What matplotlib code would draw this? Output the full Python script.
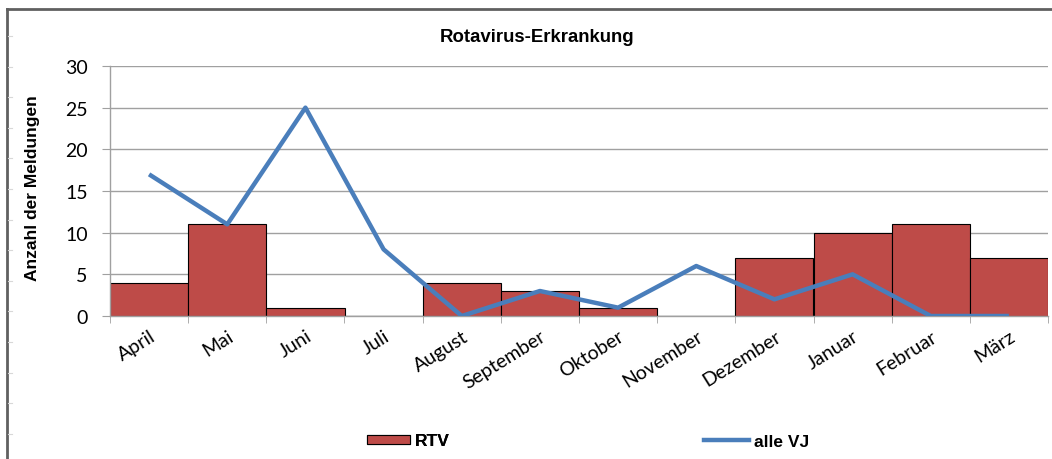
import numpy as np
import matplotlib
matplotlib.use("Agg")
import matplotlib.pyplot as plt
from matplotlib.patches import Patch
from matplotlib.lines import Line2D

# data
months = ["April", "Mai", "Juni", "Juli", "August", "September", "Oktober",
          "November", "Dezember", "Januar", "Februar", "März"]
rtv = [4, 11, 1, 0, 4, 3, 1, 0, 7, 10, 11, 7]
alle_vj = [17, 11, 25, 8, 0, 3, 1, 6, 2, 5, 0, 0]
yticks = [0, 5, 10, 15, 20, 25, 30]

bar_color = "#BE4B48"
line_color = "#4A7EBB"
grid_color = "#A0A0A0"

fig = plt.figure(figsize=(10.52, 4.60), dpi=100)
ax = fig.add_axes([110 / 1052, 1 - 317 / 460, 938 / 1052, 250 / 460])

x = np.arange(len(months))
ax.bar(x, rtv, width=1.0, color=bar_color, edgecolor="black", linewidth=0.8, zorder=2)
ax.plot(x, alle_vj, color=line_color, linewidth=3.2, zorder=3, solid_capstyle="butt")

ax.set_xlim(-0.5, len(months) - 0.5)
ax.set_ylim(0, 30)
ax.set_yticks(yticks)
ax.yaxis.grid(True, color=grid_color, linewidth=1.0, zorder=0)
ax.set_axisbelow(True)

ax.set_xticks(x)
ax.set_xticklabels(months, rotation=32, ha="right", rotation_mode="anchor",
                   fontsize=14, family="Lato")
ax.set_xticks(np.arange(-0.5, len(months)), minor=True)
ax.tick_params(axis="x", which="major", length=0, pad=8)
ax.tick_params(axis="x", which="minor", length=5, color=grid_color, direction="out")
ax.tick_params(axis="y", length=6, color=grid_color, labelsize=14, pad=10)
for lbl in ax.get_yticklabels():
    lbl.set_family("Lato")

for side in ["top", "right"]:
    ax.spines[side].set_visible(False)
for side in ["left", "bottom"]:
    ax.spines[side].set_color(grid_color)
    ax.spines[side].set_linewidth(1.0)

fig.text(33 / 1052, 1 - 188 / 460, "Anzahl der Meldungen", rotation=90,
         ha="center", va="center", fontsize=12.5, fontweight="bold",
         family="Liberation Sans")
fig.text(537 / 1052, 1 - 38 / 460, "Rotavirus-Erkrankung", ha="center", va="center",
         fontsize=13.4, fontweight="bold", family="Liberation Sans")

# outer frame (left and top) with small marks
fig.add_artist(Line2D([7 / 1052, 7 / 1052], [0, 1 - 10 / 460], color="#606060",
                      linewidth=2.0, transform=fig.transFigure))
fig.add_artist(Line2D([7 / 1052, 1], [1 - 10 / 460, 1 - 10 / 460], color="#606060",
                      linewidth=2.0, transform=fig.transFigure))
for yy in np.arange(37, 460, 30.6):
    fig.add_artist(Line2D([8 / 1052, 12 / 1052], [1 - yy / 460, 1 - yy / 460],
                          color="#D8D8D8", linewidth=0.8, transform=fig.transFigure))

legfont = {"family": "Liberation Sans", "weight": "bold", "size": 12.5}
leg1 = fig.legend(handles=[Patch(facecolor=bar_color, edgecolor="black", linewidth=0.8)],
                  labels=["RTV"], loc="center left",
                  bbox_to_anchor=(351 / 1052, 1 - 442 / 460), frameon=False,
                  prop=legfont, handlelength=2.5, handleheight=0.45, handletextpad=0.3)
leg2 = fig.legend(handles=[Line2D([0], [0], color=line_color, linewidth=3.2)],
                  labels=["alle VJ"], loc="center left",
                  bbox_to_anchor=(688 / 1052, 1 - 442 / 460), frameon=False,
                  prop=legfont, handlelength=2.6, handletextpad=0.3)
fig.add_artist(leg1)

fig.savefig("out.png", dpi=100)
